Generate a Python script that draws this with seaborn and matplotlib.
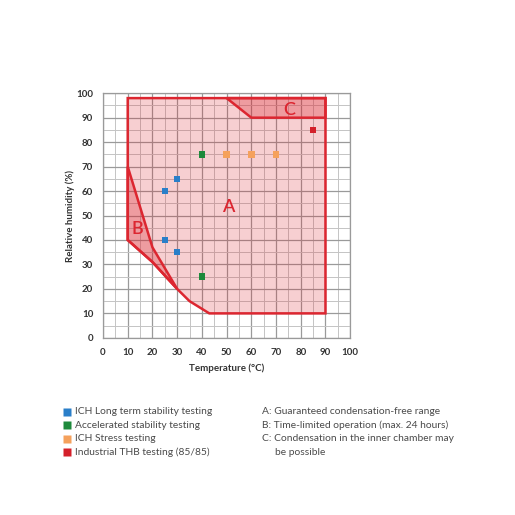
import pandas as pd
import seaborn as sns
import matplotlib.pyplot as plt
from matplotlib.lines import Line2D

# Test points (temperature in C, relative humidity in %)
temps = [25, 30, 25, 30, 40, 40, 50, 60, 70, 85]
humidity = [60, 65, 40, 35, 75, 25, 75, 75, 75, 85]
groups = ["ICH Long term stability testing"] * 4 + \
         ["Accelerated stability testing"] * 2 + \
         ["ICH Stress testing"] * 3 + \
         ["Industrial THB testing (85/85)"]
group_names = ["ICH Long term stability testing", "Accelerated stability testing",
               "ICH Stress testing", "Industrial THB testing (85/85)"]
group_colors = ["#2a7fc9", "#1e8a3c", "#f5a15c", "#d4202a"]

# Operating regions
region_a_temp = [10, 90, 90, 43, 35, 30, 20, 10]
region_a_rh = [98, 98, 10, 10, 15, 20, 31, 40]
region_b_temp = [10, 20, 30, 20, 10]
region_b_rh = [70, 37, 20, 31, 40]
region_c_temp = [50, 60, 90, 90]
region_c_rh = [98, 90, 90, 98]

region_notes = ["A: Guaranteed condensation-free range",
                "B: Time-limited operation (max. 24 hours)",
                "C: Condensation in the inner chamber may",
                "be possible"]

df = pd.DataFrame({"Temperature": temps, "Humidity": humidity, "Group": groups})

sns.set_style("white")
plt.rcParams['font.family'] = ['Lato', 'DejaVu Sans']

fig = plt.figure(figsize=(5.15, 5.15), dpi=100)
ax = fig.add_axes([0.2, 0.344, 0.48, 0.475])

red = "#dc2630"
ax.fill(region_a_temp, region_a_rh, facecolor=red, alpha=0.22, zorder=2)
ax.fill(region_a_temp, region_a_rh, facecolor="none", edgecolor=red, lw=1.8, zorder=4)
ax.fill(region_b_temp, region_b_rh, facecolor=red, alpha=0.3, zorder=2)
ax.fill(region_b_temp, region_b_rh, facecolor="none", edgecolor=red, lw=1.8, zorder=4)
ax.fill(region_c_temp, region_c_rh, facecolor=red, alpha=0.3, zorder=2)
ax.fill(region_c_temp, region_c_rh, facecolor="none", edgecolor=red, lw=1.8, zorder=4)

sns.scatterplot(data=df, x="Temperature", y="Humidity", hue="Group",
                hue_order=group_names, palette=group_colors, marker="s",
                s=22, linewidth=0, legend=False, ax=ax, zorder=5)

# Region letters
for letter, (lx, ly) in zip("ABC", [(50.5, 53.5), (13.8, 44.5), (75.5, 93.2)]):
    ax.text(lx, ly, letter, color=red, fontsize=13, fontweight="semibold",
            ha="center", va="center", zorder=6)

ax.set_xlim(0, 100)
ax.set_ylim(0, 100)
ax.set_xticks(range(0, 101, 10))
ax.set_yticks(range(0, 101, 10))
ax.set_xticks(range(0, 101, 5), minor=True)
ax.set_yticks(range(0, 101, 5), minor=True)
ax.grid(which="major", color="#9a9a9a", lw=0.9, zorder=1)
ax.grid(which="minor", color="#c4c4c4", lw=0.7, zorder=1)
ax.set_axisbelow(True)
for side in ["left", "bottom", "top", "right"]:
    ax.spines[side].set_color("#9a9a9a")
    ax.spines[side].set_linewidth(0.9)
ax.tick_params(which="major", length=3, color="#9a9a9a", labelsize=7,
               labelcolor="#333333", pad=4)
ax.tick_params(which="minor", length=0)
for lab in ax.get_xticklabels() + ax.get_yticklabels():
    lab.set_fontweight("bold")

ax.set_xlabel("Temperature (°C)", fontsize=7, fontweight="bold", color="#333333", labelpad=5)
ax.set_ylabel("Relative humidity (%)", fontsize=7, fontweight="bold", color="#333333", labelpad=1)

# Legend for test points (drawn by hand below the chart)
row_y = 0.2
row_step = 0.0262
for i, (name, c) in enumerate(zip(group_names, group_colors)):
    y = row_y - i * row_step
    fig.add_artist(Line2D([0.131], [y], marker="s", color="none", markerfacecolor=c,
                          markeredgecolor="none", markersize=6, transform=fig.transFigure))
    fig.text(0.146, y, name, fontsize=7.4, color="#4a4a4a", va="center")

# Region notes
for i, note in enumerate(region_notes):
    x = 0.534 if i == 3 else 0.509
    fig.text(x, row_y - i * row_step, note, fontsize=7.4, color="#4a4a4a", va="center")

fig.savefig("out.png", dpi=100, facecolor="white")
